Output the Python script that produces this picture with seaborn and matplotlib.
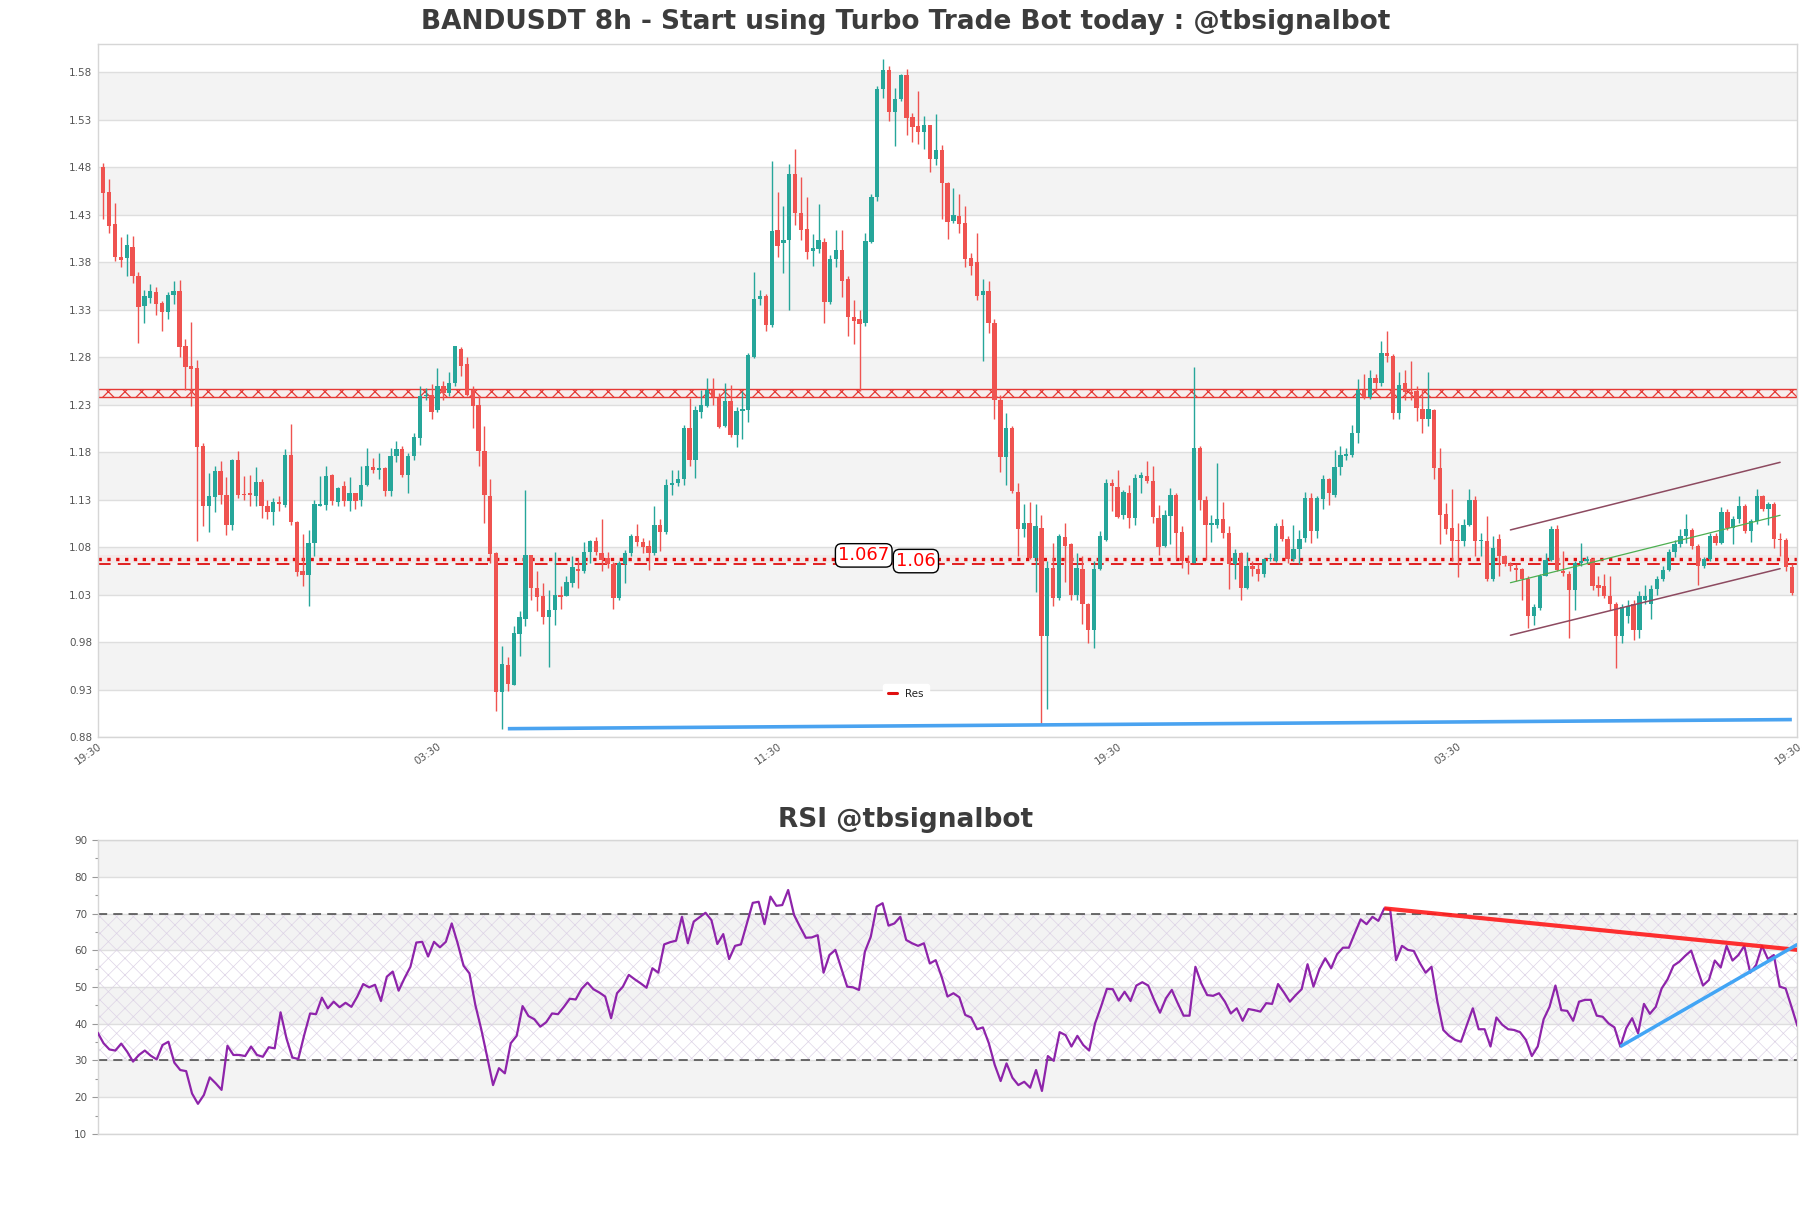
import numpy as np
import pandas as pd
import matplotlib
matplotlib.use("Agg")
import matplotlib.pyplot as plt
import seaborn as sns
from matplotlib.lines import Line2D

# ---------------- data ----------------
opens = [
 1.4807,1.454,1.4203,1.386,1.3842,1.396,1.3656,1.3344,1.343,1.3487,
 1.3368,1.328,1.3455,1.3498,1.2923,1.2713,1.269,1.1865,1.1233,1.1331,
 1.1602,1.1356,1.1033,1.1724,1.1366,1.1373,1.1345,1.1489,1.124,1.1173,
 1.1282,1.125,1.177,1.1065,1.0555,1.0506,1.0847,1.124,1.1243,1.1559,
 1.1279,1.1444,1.1286,1.1367,1.13,1.1454,1.1647,1.1609,1.1637,1.1391,
 1.1766,1.1837,1.1559,1.1766,1.1953,1.2391,1.2405,1.2244,1.2498,1.242,
 1.2525,1.2893,1.2729,1.2461,1.2303,1.1819,1.1345,1.0742,0.9279,0.9556,
 0.9355,0.9892,1.0047,1.0714,1.0373,1.0285,1.0068,1.0145,1.0303,1.0285,
 1.0426,1.0573,1.0549,1.0752,1.0871,1.0742,1.0689,1.0629,1.0268,1.0629,
 1.0742,1.0924,1.0861,1.0812,1.0735,1.104,1.0959,1.1451,1.1472,1.1514,
 1.2051,1.1719,1.2228,1.2287,1.2456,1.2368,1.2077,1.2340,1.1982,1.2238,
 1.2245,1.2806,1.3413,1.3448,1.3139,1.414,1.4,1.4034,1.4733,1.4315,
 1.4151,1.3922,1.3936,1.4017,1.3385,1.3838,1.3929,1.362,1.3227,1.3199,
 1.3157,1.4017,1.4491,1.5621,1.5825,1.5386,1.5519,1.5772,1.5326,1.5235,
 1.5175,1.5242,1.4884,1.4982,1.4638,1.4238,1.4287,1.421,1.3842,1.38,
 1.3455,1.3501,1.3164,1.2356,1.1749,1.2058,1.1384,1.0988,1.1058,1.0689,
 1.1005,0.9865,1.0584,1.0268,1.091,1.083,1.0303,1.0574,1.0205,0.9928,
 1.0574,1.0882,1.1479,1.1437,1.1135,1.1367,1.111,1.1531,1.1556,1.1496,
 1.111,1.0812,1.1128,1.1346,1.096,1.0661,1.0637,1.1847,1.1303,1.104,
 1.104,1.11,1.0953,1.0619,1.0735,1.0373,1.0608,1.0574,1.0514,1.0672,
 1.0654,1.1023,1.0889,1.0672,1.0784,1.0899,1.1321,1.097,1.131,1.1514,
 1.1356,1.1647,1.1766,1.1777,1.2005,1.2455,1.2385,1.2578,1.2525,1.2841,
 1.2813,1.2216,1.2525,1.2437,1.2444,1.2261,1.2146,1.2251,1.163,1.1149,
 1.1005,1.0882,1.0865,1.104,1.1296,1.0865,1.0865,1.0468,1.0889,1.0707,
 1.0619,1.0584,1.0573,1.0468,1.0075,1.0163,1.0503,1.0671,1.0988,1.0549,
 1.0514,1.0349,1.0636,1.0654,1.0672,1.0408,1.0391,1.0292,1.0208,0.9864,
 1.0075,1.0208,0.9934,1.0243,1.0208,1.0356,1.0468,1.0566,1.0749,1.084,
 1.0917,1.0981,1.0812,1.0601,1.0682,1.0924,1.0847,1.117,1.1005,1.11,
 1.124,1.097,1.1075,1.1338,1.1205,1.1261,1.0889,1.0872,1.0591]
highs = [
 1.485,1.4677,1.4428,1.4063,1.4098,1.4077,1.370,1.3508,1.3571,1.3536,
 1.3392,1.3487,1.3603,1.3613,1.2993,1.3175,1.2772,1.19,1.1584,1.1661,
 1.1707,1.1542,1.1731,1.1812,1.1549,1.1566,1.1643,1.1514,1.13,1.132,
 1.1345,1.183,1.2103,1.1075,1.0945,1.0982,1.13,1.1549,1.166,1.1577,
 1.1437,1.1496,1.1542,1.137,1.1654,1.1847,1.1742,1.1788,1.1647,1.1847,
 1.1924,1.1865,1.1794,1.2005,1.2497,1.2473,1.2518,1.2684,1.255,1.2649,
 1.2918,1.2911,1.2807,1.2495,1.2409,1.2075,1.1514,1.0749,0.9759,0.9647,
 0.997,1.0127,1.1408,1.0717,1.0549,1.0426,1.0349,1.0749,1.0391,1.0496,
 1.0707,1.0672,1.086,1.0872,1.0913,1.1093,1.075,1.065,1.0654,1.077,
 1.0935,1.105,1.09,1.0882,1.124,1.1093,1.1521,1.1612,1.1612,1.2093,
 1.2374,1.2287,1.246,1.2581,1.2581,1.2421,1.2528,1.2511,1.2273,1.2449,
 1.2842,1.3701,1.351,1.347,1.4866,1.4543,1.4392,1.4835,1.4993,1.4701,
 1.4484,1.41,1.4414,1.4052,1.3877,1.414,1.414,1.3655,1.3403,1.3297,
 1.4105,1.452,1.5656,1.5947,1.5867,1.5632,1.578,1.5832,1.5368,1.5607,
 1.534,1.525,1.5358,1.5035,1.465,1.4579,1.4519,1.4392,1.39,1.4105,
 1.362,1.3606,1.32,1.24,1.2216,1.2075,1.1479,1.1261,1.1275,1.1261,
 1.1135,1.0654,1.0847,1.0935,1.1051,1.0847,1.0742,1.0707,1.0216,1.0654,
 1.097,1.1514,1.1514,1.1612,1.14,1.1451,1.1577,1.1591,1.1707,1.1661,
 1.125,1.1191,1.1426,1.1367,1.1023,1.0724,1.2696,1.1865,1.1338,1.1135,
 1.169,1.1275,1.1023,1.0777,1.0749,1.0749,1.0654,1.0619,1.0689,1.0735,
 1.1058,1.1093,1.092,1.103,1.098,1.1381,1.1374,1.1338,1.1566,1.1531,
 1.1823,1.1865,1.1847,1.2093,1.2567,1.2623,1.2665,1.263,1.2974,1.3076,
 1.284,1.2646,1.2665,1.2764,1.25,1.2472,1.2648,1.2261,1.1847,1.1268,
 1.1416,1.1058,1.1093,1.1409,1.1338,1.0952,1.1128,1.0917,1.0945,1.0724,
 1.065,1.062,1.058,1.05,1.02,1.0514,1.0742,1.1023,1.1033,1.0759,
 1.055,1.066,1.0847,1.0707,1.069,1.0496,1.0514,1.0496,1.022,1.02,
 1.025,1.025,1.0338,1.04,1.04,1.05,1.06,1.078,1.088,1.0994,
 1.1148,1.10,1.083,1.07,1.095,1.095,1.1226,1.12,1.113,1.1338,
 1.126,1.11,1.1419,1.1356,1.128,1.128,1.0952,1.09,1.062]
lows = [
 1.4252,1.4105,1.3817,1.3754,1.366,1.3585,1.2947,1.3158,1.3375,1.3242,
 1.308,1.32,1.3357,1.2806,1.246,1.2286,1.0865,1.1022,1.0963,1.117,
 1.126,1.0931,1.098,1.132,1.13,1.124,1.1233,1.111,1.1093,1.104,
 1.118,1.122,1.103,1.0496,1.039,1.018,1.0706,1.1233,1.119,1.125,
 1.123,1.123,1.118,1.12,1.1233,1.1444,1.1584,1.1514,1.1338,1.1345,
 1.1697,1.1542,1.1373,1.1724,1.1882,1.2356,1.2146,1.2226,1.235,1.2398,
 1.25,1.26,1.2398,1.2058,1.1654,1.1058,1.063,0.9075,0.8889,0.9285,
 0.9345,0.9654,0.997,1.025,1.0127,0.9997,0.9537,0.9977,1.0152,1.0285,
 1.0384,1.0367,1.0531,1.0637,1.072,1.0549,1.0584,1.0155,1.025,1.0426,
 1.0707,1.0812,1.0742,1.0559,1.0714,1.0759,1.0945,1.1356,1.1444,1.1461,
 1.1654,1.1526,1.2166,1.2273,1.2298,1.2052,1.2063,1.1965,1.1859,1.1943,
 1.2122,1.279,1.335,1.308,1.312,1.3859,1.369,1.3297,1.4192,1.4034,
 1.3831,1.3764,1.3894,1.3164,1.336,1.3754,1.3438,1.3024,1.2946,1.245,
 1.313,1.40,1.4445,1.5526,1.5291,1.5028,1.55,1.514,1.507,1.5042,
 1.4989,1.4754,1.4824,1.4256,1.4042,1.421,1.4105,1.3754,1.3666,1.3403,
 1.2764,1.3052,1.2153,1.1591,1.1461,1.1373,1.0707,1.091,1.0672,1.0328,
 0.8935,0.9093,1.0187,1.025,1.0433,1.025,1.0244,0.9988,0.9795,0.9742,
 1.0566,1.0865,1.118,1.111,1.11,1.1005,1.103,1.1367,1.1472,1.1058,
 1.0724,1.0805,1.084,1.0672,1.0584,1.0514,1.063,1.1198,1.067,1.0854,
 1.1005,1.09,1.0356,1.0468,1.025,1.0356,1.0496,1.0444,1.0489,1.0654,
 1.0644,1.0865,1.0637,1.0654,1.0619,1.0854,1.0847,1.09,1.1205,1.125,
 1.1332,1.1566,1.1724,1.175,1.19,1.236,1.236,1.245,1.25,1.275,
 1.2153,1.215,1.235,1.235,1.2128,1.2,1.2075,1.1514,1.083,1.0935,
 1.0654,1.0489,1.0812,1.1023,1.0707,1.0707,1.0444,1.0443,1.0496,1.0602,
 1.055,1.045,1.025,0.9952,0.998,1.0145,1.05,1.066,1.0549,1.05,
 0.9847,1.0145,1.06,1.063,1.035,1.0285,1.027,1.0145,0.9531,0.9794,
 1.0,0.9829,0.9847,1.02,1.0047,1.03,1.045,1.055,1.07,1.08,
 1.085,1.078,1.0408,1.058,1.066,1.082,1.083,1.098,1.083,1.106,
 1.095,1.0854,1.105,1.118,1.104,1.0794,1.0707,1.055,1.0303]
closes = [
 1.4526,1.4186,1.386,1.383,1.3982,1.366,1.3333,1.3445,1.3498,1.3364,
 1.3273,1.3455,1.3498,1.2912,1.2701,1.2674,1.1854,1.1233,1.1338,1.1602,
 1.1349,1.1033,1.1717,1.1356,1.1349,1.1349,1.1489,1.1233,1.1173,1.1282,
 1.1254,1.177,1.1065,1.0538,1.0506,1.0847,1.1261,1.125,1.1549,1.1286,
 1.1426,1.1286,1.1367,1.1286,1.1461,1.1661,1.1609,1.1637,1.1391,1.1766,
 1.1837,1.1559,1.1766,1.196,1.2391,1.2409,1.2226,1.2498,1.2428,1.2532,
 1.2918,1.2711,1.2409,1.2286,1.1812,1.1349,1.0731,0.9279,0.9566,0.9362,
 0.9899,1.0064,1.0717,1.0373,1.0278,1.0068,1.0145,1.0303,1.0278,1.0433,
 1.0591,1.0549,1.0752,1.0871,1.075,1.0671,1.0619,1.0268,1.0636,1.0742,
 1.0924,1.0854,1.0805,1.0735,1.104,1.0959,1.1451,1.1472,1.1521,1.2051,
 1.1717,1.2245,1.2298,1.2456,1.2386,1.2070,1.2343,1.1982,1.2235,1.2252,
 1.2824,1.3413,1.3448,1.3139,1.4133,1.3975,1.4034,1.4726,1.4315,1.414,
 1.3912,1.3954,1.4034,1.3385,1.3838,1.3929,1.3606,1.3227,1.3185,1.315,
 1.4027,1.4491,1.5621,1.5825,1.5386,1.5519,1.5772,1.5316,1.5228,1.5175,
 1.5242,1.4884,1.4982,1.4638,1.4228,1.4298,1.4203,1.3831,1.3764,1.3448,
 1.3501,1.3164,1.2356,1.1749,1.2058,1.1391,1.0988,1.1051,1.0689,1.1023,
 0.9865,1.0584,1.0268,1.0924,1.0812,1.0303,1.0584,1.0205,0.9928,1.0574,
 1.0917,1.1479,1.1444,1.1121,1.1384,1.111,1.1531,1.1559,1.1496,1.1121,
 1.0805,1.1135,1.1346,1.0953,1.0654,1.0637,1.1847,1.1303,1.104,1.1058,
 1.11,1.0953,1.0626,1.0735,1.0373,1.0608,1.0574,1.0514,1.0672,1.0689,
 1.1023,1.0889,1.0672,1.0784,1.0889,1.1321,1.097,1.1321,1.1514,1.1367,
 1.1647,1.1777,1.1777,1.2005,1.2461,1.2385,1.2578,1.2525,1.2841,1.2813,
 1.2216,1.2508,1.2437,1.241,1.2268,1.2146,1.2261,1.1637,1.1142,1.0996,
 1.0865,1.0865,1.104,1.1303,1.0865,1.0872,1.0468,1.0794,1.0707,1.0619,
 1.060,1.0566,1.0468,1.0075,1.017,1.0503,1.0671,1.0988,1.0566,1.0531,
 1.0349,1.0636,1.0654,1.0672,1.0391,1.0373,1.0292,1.0208,0.9864,1.0173,
 1.018,0.9934,1.0285,1.0285,1.0356,1.0468,1.0566,1.0749,1.084,1.0917,
 1.0988,1.0812,1.0608,1.0682,1.0924,1.0847,1.117,1.1005,1.11,1.124,
 1.097,1.1075,1.1338,1.1205,1.1261,1.0889,1.0872,1.0591,1.0321]

x_tick_labels = ["19:30", "03:30", "11:30", "19:30", "03:30", "19:30"]
price_ticks = [0.88, 0.93, 0.98, 1.03, 1.08, 1.13, 1.18, 1.23, 1.28, 1.33,
               1.38, 1.43, 1.48, 1.53, 1.58]

# horizontal levels
res_zone = [1.2378, 1.2462]
level_dotted = 1.068
level_dashed = 1.0625
label_dotted = "1.067"
label_dashed = "1.06"
# trend lines (candle index, price)
support_line_x = [69, 288]
support_line_y = [0.889, 0.8986]
channel_x = [240, 286]
channel_upper = [1.0983, 1.1695]
channel_mid = [1.0427, 1.1137]
channel_lower = [0.9874, 1.0575]

# RSI values
rsi_a = [37.6, 34.7, 33.0, 32.7, 34.6, 32.4, 29.7, 31.5, 32.7, 31.3,
         30.3, 34.2, 35.1, 29.4, 27.4, 27.1, 21.0, 18.2, 20.6, 25.4,
         23.8, 22.0, 34.0, 31.5, 31.5, 31.2, 33.8, 31.5, 31.0, 33.6,
         33.3, 43.1, 36.0, 30.8, 30.4, 36.9, 42.8, 42.6, 47.1, 44.2,
         46.0, 44.5, 45.7, 44.6, 47.4, 50.8, 49.9, 50.6, 46.2, 52.8,
         54.2, 49.0, 52.4, 55.5, 62.1, 62.3, 58.3, 62.3, 60.8, 62.3,
         67.3, 61.9, 55.8, 53.7, 45.1, 38.5, 31.0, 23.3, 27.9, 26.5,
         34.7, 36.7, 44.8, 42.1, 41.2, 39.2, 40.4, 42.8, 42.6, 44.6,
         46.8, 46.6, 49.5, 51.2, 49.4, 48.5]
rsi_b = [47.4, 41.5, 48.3, 50.1, 53.3, 52.1, 51.0, 49.8, 55.1, 53.9,
         61.6, 62.2, 62.6, 69.1, 61.9, 67.8, 69.0, 70.2, 68.2, 61.7,
         64.4, 57.6, 61.2, 61.6, 67.3, 72.9, 73.2, 67.1, 74.6, 72.1,
         72.3, 76.4, 69.6, 66.4, 63.4, 63.5, 64.1, 53.9, 58.7, 60.1,
         55.1, 50.1, 49.9, 49.2, 59.6, 63.7, 71.9, 72.8, 66.7, 67.3,
         69.1, 62.8, 61.9, 61.2, 61.9, 56.4, 57.3, 52.8, 47.4, 48.3,
         47.2, 42.4, 41.7, 38.5, 39.0, 34.7, 28.8, 24.4, 29.2, 25.3,
         23.3, 24.2, 22.6, 27.4, 21.7, 31.2, 29.9, 37.7, 36.9, 33.8,
         36.7, 34.2, 32.7, 40.1, 44.6, 49.5, 49.4, 46.3, 48.7, 46.2,
         50.4, 51.3, 50.4, 46.5, 43.0, 46.9, 49.2, 45.6, 42.2, 42.2,
         55.5, 51.0]
rsi_c = [47.8, 47.6, 48.3, 46.0, 42.8, 44.2, 40.8, 44.0, 43.7, 43.3,
         45.6, 45.4, 50.8, 48.5, 46.0, 47.8, 49.4, 56.2, 50.1, 54.8,
         57.8, 55.1, 58.9, 60.7, 60.7, 64.6, 68.4, 67.1, 69.1, 68.0,
         71.4, 71.1, 57.3, 61.2, 60.1, 59.8, 56.6, 53.9, 55.5, 46.0,
         38.3, 36.7, 35.6, 35.1, 39.7, 44.2, 38.5, 38.5, 33.8, 41.7,
         39.7, 38.5, 38.3, 37.7, 35.6, 31.2, 33.8, 41.2, 44.6, 50.4,
         43.7, 43.5, 40.8, 46.0, 46.5, 46.5, 42.2, 41.9, 40.1, 39.0,
         33.8, 38.8, 41.5, 37.4, 45.4, 42.7, 44.6, 49.6, 52.1, 55.8,
         56.9, 58.5, 59.9, 55.1, 50.4, 51.9, 57.2, 55.3, 61.2, 57.2,
         58.7, 61.2, 53.9, 56.0, 61.2, 57.6, 58.7, 50.1, 49.6, 44.6,
         39.4]
rsi_res_start = 30     # position inside rsi_c of the RSI top
rsi_sup_start = 70     # position inside rsi_c of the RSI low
rsi_res_values = [71.4, 60.1]
rsi_sup_values = [33.8, 61.6]
rsi_ticks = [10, 20, 30, 40, 50, 60, 70, 80, 90]

# ---------------- figure ----------------
sns.set_theme(style="white")
plt.rcParams["font.family"] = ["DejaVu Sans"]

GREEN = "#26a69a"
RED = "#ef5350"
BAND = "#f3f3f3"
GRID = "#dedede"
SPINE = "#d6d6d6"
TXT = "#555555"

fig = plt.figure(figsize=(18.11, 12.08), dpi=100)
ax = fig.add_axes([0.0539, 0.3897, 0.9386, 0.5739])
ax2 = fig.add_axes([0.0539, 0.0613, 0.9386, 0.2433])

df = pd.DataFrame({"open": opens, "high": highs, "low": lows, "close": closes})
df["x"] = np.arange(len(df))
n = len(df)
up = df["close"] >= df["open"]
cols = np.where(up, GREEN, RED)

# background bands + grid
for k in range(len(price_ticks) - 1):
    lo, hi = price_ticks[k], price_ticks[k + 1]
    if k % 2 == 1:
        ax.axhspan(lo, hi, color=BAND, zorder=0, lw=0)
for t in price_ticks:
    ax.axhline(t, color=GRID, lw=1, zorder=0.5)

# candles
ax.vlines(df["x"], df["low"], df["high"], color=cols, lw=1, zorder=3)
body_lo = np.minimum(df["open"], df["close"])
body_h = np.maximum(np.abs(df["close"] - df["open"]), 0.0015)
ax.bar(df["x"], body_h, bottom=body_lo, width=0.74, color=cols, lw=0, zorder=4)

# levels
with plt.rc_context({"hatch.linewidth": 0.9}):
    ax.axhspan(res_zone[0], res_zone[1], facecolor=(1, 0.9, 0.9, 0.4),
               edgecolor="#e53935", hatch="xx", lw=1.0, zorder=2)
ax.axhspan(level_dotted - 0.004, level_dotted + 0.0035, color="#ff4040", alpha=0.05, lw=0, zorder=1)
ax.axhline(level_dotted, color="#e01010", ls=":", lw=2.4, zorder=2.5)
ax.axhline(level_dashed, color="#e01010", ls=(0, (7, 4)), lw=1.3, zorder=2.5)
bbox = dict(boxstyle="round,pad=0.15,rounding_size=0.35", fc="white", ec="black", lw=1)
ax.text(129.7, level_dotted + 0.0035, label_dotted, color="#ff0000", fontsize=13,
        ha="center", va="center", bbox=bbox, zorder=6)
ax.text(138.6, level_dashed + 0.003, label_dashed, color="#ff0000", fontsize=13,
        ha="center", va="center", bbox=bbox, zorder=6)

# trend lines
ax.plot(support_line_x, support_line_y, color="#4aa3f0", lw=2.6, zorder=5, solid_capstyle="butt")
ax.plot(channel_x, channel_upper, color="#8d4a60", lw=1.1, zorder=5)
ax.plot(channel_x, channel_lower, color="#8d4a60", lw=1.1, zorder=5)
ax.plot(channel_x, channel_mid, color="#4caf50", lw=0.9, zorder=5)

ax.set_xlim(-0.97, n - 0.05)
ax.set_ylim(0.88, 1.61)
ax.set_yticks(price_ticks)
ax.set_yticklabels([f"{t:.2f}" for t in price_ticks])
xt = np.linspace(-0.97, n - 0.05, len(x_tick_labels))
ax.set_xticks(xt)
ax.set_xticklabels(x_tick_labels, rotation=35, ha="right", rotation_mode="anchor")
ax.tick_params(axis="both", labelsize=7.5, colors=TXT, length=0, pad=4)
ax.tick_params(axis="x", pad=3)
for s in ax.spines.values():
    s.set_color(SPINE)
    s.set_linewidth(1)

leg = ax.legend(handles=[Line2D([0], [0], color="#e01010", lw=2.2)], labels=["Res"],
                loc="center", bbox_to_anchor=(0.4755, 0.0625), fontsize=7.5,
                handlelength=0.9, frameon=True, framealpha=1, borderpad=0.5)
leg.get_frame().set_edgecolor("white")
leg.get_frame().set_facecolor("white")
for t in leg.get_texts():
    t.set_color("#222222")

# ---------------- RSI ----------------
rsi = rsi_a + rsi_b + rsi_c
rsi_df = pd.DataFrame({"i": np.arange(len(rsi)), "rsi": rsi})
for k in range(len(rsi_ticks) - 1):
    if k % 2 == 1:
        ax2.axhspan(rsi_ticks[k], rsi_ticks[k + 1], color=BAND, zorder=0, lw=0)
for t in rsi_ticks:
    ax2.axhline(t, color=GRID, lw=1, zorder=0.5)
with plt.rc_context({"hatch.linewidth": 0.5}):
    ax2.axhspan(30, 70, facecolor="none", edgecolor="#ddd3e6", hatch="xx", lw=0, zorder=0.6)
ax2.axhline(70, color="#444444", ls=(0, (6, 4)), lw=1.1, zorder=2)
ax2.axhline(30, color="#444444", ls=(0, (6, 4)), lw=1.1, zorder=2)

sns.lineplot(data=rsi_df, x="i", y="rsi", ax=ax2, color="#8e24aa", lw=1.6, zorder=4)

off = len(rsi_a) + len(rsi_b)
last = len(rsi) - 1
ax2.plot([off + rsi_res_start, last], rsi_res_values, color="#ff1a1a", lw=3, alpha=0.9,
         zorder=5, solid_capstyle="butt")
ax2.plot([off + rsi_sup_start, last], rsi_sup_values, color="#42a5f5", lw=2.5,
         zorder=5, solid_capstyle="butt")

ax2.set_xlim(0, last)
ax2.set_ylim(10, 90)
ax2.set_yticks(rsi_ticks)
ax2.set_yticks([15, 25, 35, 45, 55, 65, 75, 85], minor=True)
ax2.set_xticks([])
ax2.set_xlabel("")
ax2.set_ylabel("")
ax2.tick_params(axis="y", which="major", labelsize=7.5, colors=TXT, length=4,
                width=0.8, left=True, color="#999999")
ax2.tick_params(axis="y", which="minor", length=2.5, width=0.8, left=True, color="#999999")
for lab in ax2.get_yticklabels():
    lab.set_color(TXT)
for s in ax2.spines.values():
    s.set_color(SPINE)
    s.set_linewidth(1)

# titles
fig.text(0.5, 0.9815, "BANDUSDT 8h - Start using Turbo Trade Bot today : @tbsignalbot",
         ha="center", va="center", fontsize=19, fontweight="bold", color="#3c3c3c")
fig.text(0.5, 0.3212, "RSI @tbsignalbot", ha="center", va="center", fontsize=19,
         fontweight="bold", color="#3c3c3c")

fig.savefig("out.png", dpi=100, facecolor="white")
